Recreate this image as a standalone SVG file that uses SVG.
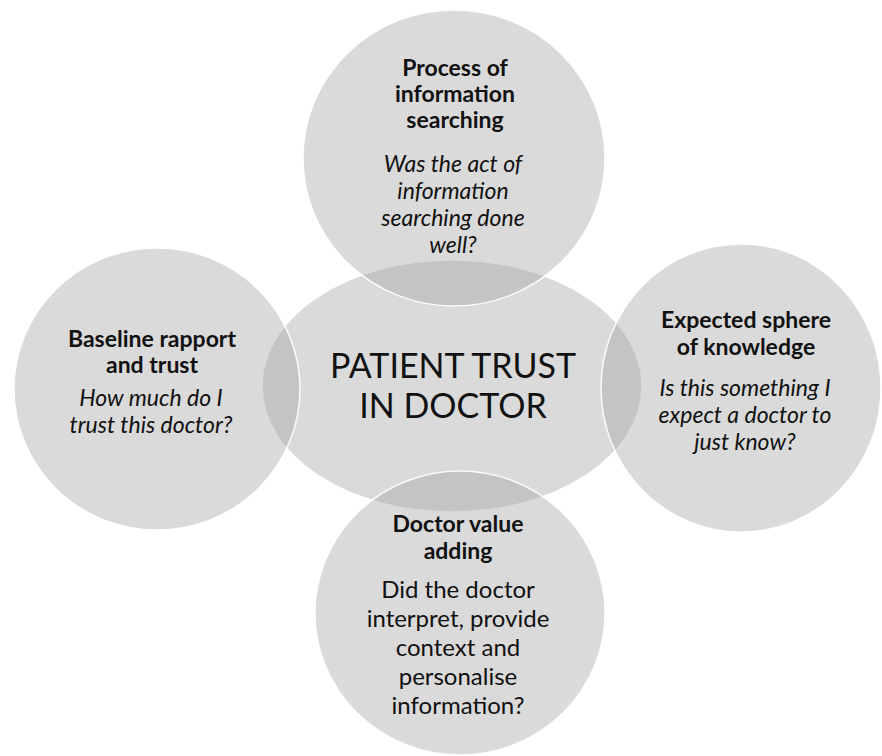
<svg xmlns="http://www.w3.org/2000/svg" width="882" height="756" viewBox="0 0 882 756">
<style>
.sh{fill:#a3a3a3;fill-opacity:0.4;stroke:#ffffff;stroke-width:1.5;stroke-opacity:0.9}
text{font-family:Lato,"Open Sans","Liberation Sans",sans-serif;fill:#111;text-anchor:middle}
.b{font-weight:bold;font-size:23px}
.i{font-style:italic;font-size:23px}
.r{font-size:24px}
.c{font-size:34px}
</style>
<rect width="882" height="756" fill="#ffffff"/>
<g id="center">
<ellipse class="sh" cx="452" cy="386" rx="190" ry="126"/>
<text class="c" x="453" y="378">PATIENT TRUST</text>
<text class="c" x="453" y="418">IN DOCTOR</text>
</g>
<g id="top">
<ellipse class="sh" cx="454" cy="158" rx="151" ry="148"/>
<text class="b" x="455" y="76">Process of</text>
<text class="b" x="455" y="102">information</text>
<text class="b" x="455" y="128">searching</text>
<text class="i" x="453" y="172">Was the act of</text>
<text class="i" x="453" y="199">information</text>
<text class="i" x="453" y="226">searching done</text>
<text class="i" x="453" y="253">well?</text>
</g>
<g id="left">
<ellipse class="sh" cx="157" cy="389" rx="143" ry="141"/>
<text class="b" x="152" y="347">Baseline rapport</text>
<text class="b" x="152" y="373">and trust</text>
<text class="i" x="151" y="406">How much do I</text>
<text class="i" x="151" y="433">trust this doctor?</text>
</g>
<g id="right">
<ellipse class="sh" cx="741" cy="388" rx="140" ry="144"/>
<text class="b" x="746" y="328">Expected sphere</text>
<text class="b" x="746" y="355">of knowledge</text>
<text class="i" x="745" y="396">Is this something I</text>
<text class="i" x="745" y="423">expect a doctor to</text>
<text class="i" x="745" y="450">just know?</text>
</g>
<g id="bottom">
<ellipse class="sh" cx="460" cy="613" rx="145" ry="142"/>
<text class="b" x="458" y="532">Doctor value</text>
<text class="b" x="458" y="559">adding</text>
<text class="r" x="458" y="598">Did the doctor</text>
<text class="r" x="458" y="627">interpret, provide</text>
<text class="r" x="458" y="656">context and</text>
<text class="r" x="458" y="685">personalise</text>
<text class="r" x="458" y="714">information?</text>
</g>
<g id="connectors"></g>
</svg>
